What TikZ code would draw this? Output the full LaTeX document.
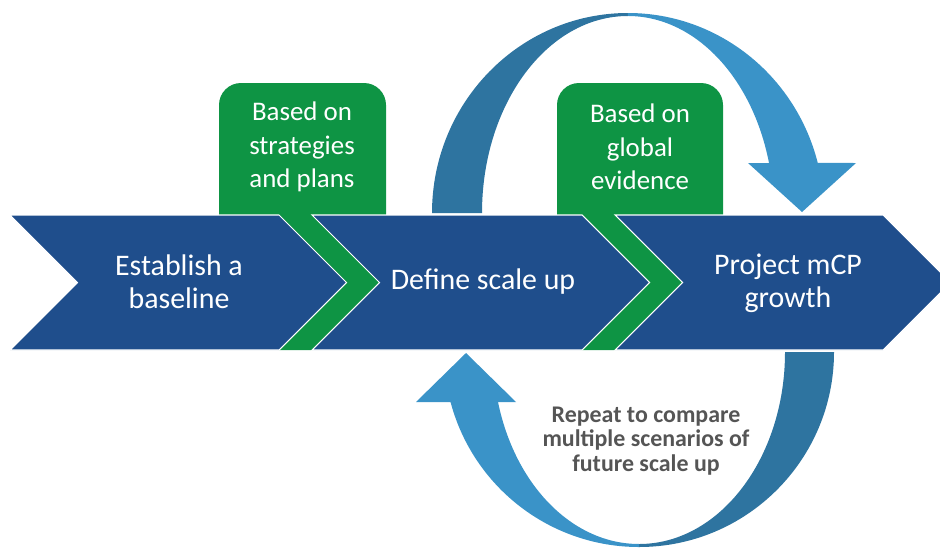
\documentclass[tikz,border=0pt]{standalone}
\usepackage{fontspec}
\setmainfont{Carlito}
\usepackage{tikz}

\definecolor{bandblue}{HTML}{1F4E8C}
\definecolor{basisgreen}{HTML}{0E9444}
\definecolor{arcdark}{HTML}{2E74A0}
\definecolor{arclight}{HTML}{3A93C8}
\definecolor{notegray}{HTML}{555555}

\begin{document}
\begin{tikzpicture}[x=0.2mm, y=0.2mm,
		stagelabel/.style={text=white, align=center, inner sep=0pt, font=\fontsize{17}{18.7}\selectfont},
		basislabel/.style={text=white, align=center, inner sep=0pt, font=\fontsize{15.3}{19}\selectfont},
		loopnote/.style={text=notegray, align=center, inner sep=0pt, font=\bfseries\fontsize{13.6}{13.8}\selectfont},
		chevron/.style={fill=bandblue, draw=white, line width=0.6pt}]
	\useasboundingbox (0, 0) rectangle (940, 547);
	\clip (0, 0) rectangle (940, 547);

	\fill [arcdark] (432, 334) arc [start angle=180, end angle=90, x radius=196, y radius=200]
		-- (628, 531) arc [start angle=90, end angle=180, x radius=146, y radius=197] -- cycle;
	\fill [arclight] (628, 534) arc [start angle=90, end angle=14.5, x radius=196, y radius=200]
		-- (856, 384) -- (802, 335) -- (748, 384) -- (769, 384)
		arc [start angle=14.7, end angle=90, x radius=146, y radius=197] -- cycle;
	\fill [arcdark] (834, 195) arc [start angle=0, end angle=-90, x radius=195, y radius=195]
		-- (639, 3) arc [start angle=-90, end angle=0, x radius=146, y radius=192] -- cycle;
	\fill [arclight] (639, 0) arc [start angle=270, end angle=194.9, x radius=195, y radius=195]
		-- (416, 145) -- (466, 194) -- (516, 145) -- (498, 145)
		arc [start angle=195.1, end angle=270, x radius=146, y radius=192] -- cycle;

	\foreach \xa/\xb in {219/386, 557/723}
		\fill [basisgreen] (\xa, 332) [rounded corners=4.4mm] -- (\xa, 464) -- (\xb, 464) [sharp corners] -- (\xb, 332) -- cycle;
	\foreach \xa in {279, 582}
		\fill [basisgreen] (\xa, 332) -- ({\xa+33}, 332) -- ({\xa+100.5}, 264.5) -- ({\xa+33}, 197) -- (\xa, 197) -- ({\xa+67.5}, 264.5) -- cycle;
	\foreach \xa/\xb in {10/279, 312/582, 615/883}
		\draw [chevron] (\xa, 332) -- (\xb, 332) -- ({\xb+67.5}, 264.5) -- (\xb, 197) -- (\xa, 197) -- ({\xa+67.5}, 264.5) -- cycle;

	\node [stagelabel] (EB) at (179, 265) {Establish a\\baseline};
	\node [stagelabel] (DS) at (483, 265) {Define scale up};
	\node [stagelabel] (PG) at (788, 264) {Project mCP\\growth};
	\node [basislabel] (BS) at (302, 400) {Based on\\strategies\\and plans};
	\node [basislabel] (BG) at (640, 400) {Based on\\global\\evidence};
	\node [loopnote] (RP) at (646, 106) {Repeat to compare\\multiple scenarios of\\future scale up};
\end{tikzpicture}
\end{document}
